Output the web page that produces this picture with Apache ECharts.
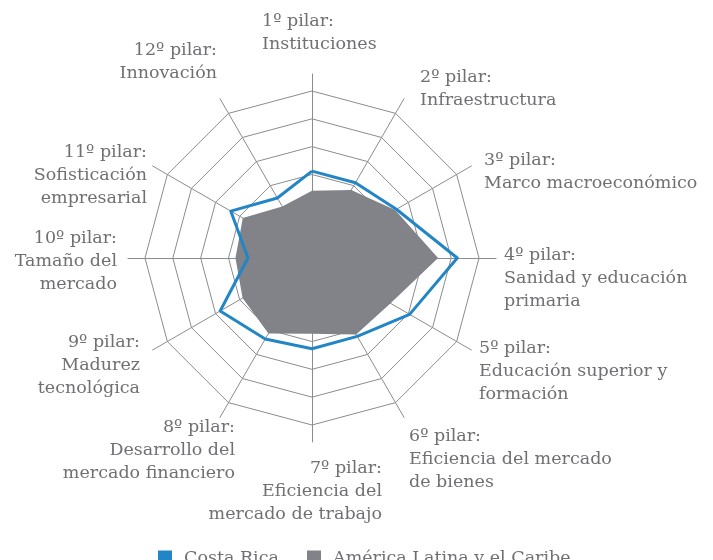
<!DOCTYPE html>
<html>
<head>
<meta charset="utf-8">
<script src="https://cdn.jsdelivr.net/npm/echarts@6.0.0/dist/echarts.min.js"></script>
<style>
  html, body { margin: 0; padding: 0; background: #fff; }
  #main { width: 713px; height: 560px; }
</style>
</head>
<body>
<div id="main"></div>
<script>
// pilares del Índice de Competitividad Global (escala 1-7)
const pilares = [
  '1º pilar:\nInstituciones',
  '2º pilar:\nInfraestructura',
  '3º pilar:\nMarco macroeconómico',
  '4º pilar:\nSanidad y educación\nprimaria',
  '5º pilar:\nEducación superior y\nformación',
  '6º pilar:\nEficiencia del mercado\nde bienes',
  '7º pilar:\nEficiencia del\nmercado de trabajo',
  '8º pilar:\nDesarrollo del\nmercado financiero',
  '9º pilar:\nMadurez\ntecnológica',
  '10º pilar:\nTamaño del\nmercado',
  '11º pilar:\nSofisticación\nempresarial',
  '12º pilar:\nInnovación'
]
const costaRica = [4.12, 4.12, 4.5, 6.22, 5.05, 4.25, 4.26, 4.36, 4.81, 3.3, 4.37, 3.49]
const americaLatina = [3.42, 3.82, 4.45, 5.53, 4.26, 4.17, 3.72, 4.13, 3.88, 3.75, 3.87, 3.14]
const escalaMin = 1
const escalaMax = 7

// posición de las etiquetas: [x, y de la primera línea, alineación]
const etiquetas = [
  [262, 21, 'left'],
  [420, 77, 'left'],
  [484, 160, 'left'],
  [504, 255, 'left'],
  [479, 348, 'left'],
  [409, 436, 'left'],
  [382, 468, 'right'],
  [235, 427, 'right'],
  [140, 342, 'right'],
  [117, 238, 'right'],
  [147, 152, 'right'],
  [217, 50, 'right']
]

const fuente = '17.5px "DejaVu Serif"'
const colorTexto = '#6f7073'
const azul = '#2286c6'
const gris = '#818388'
const lineaGris = '#8b8c8f'

// ECharts reparte los ejes en sentido antihorario: invertimos el orden
const orden = pilares.map((p, i) => (pilares.length - i) % pilares.length)
const indicadores = orden.map(i => ({ name: pilares[i], min: escalaMin, max: escalaMax }))
const reordenar = arr => orden.map(i => arr[i])

const chart = echarts.init(document.getElementById('main'))

const option = {
  animation: false,
  radar: [
    {
      center: [312, 258],
      radius: 167,
      startAngle: 90,
      splitNumber: 6,
      shape: 'polygon',
      indicator: indicadores,
      axisName: { show: false },
      axisLine: { show: false },
      axisTick: { show: false },
      splitLine: { lineStyle: { color: lineaGris, width: 1 } },
      splitArea: { show: false }
    },
    {
      center: [312, 258],
      radius: 184,
      startAngle: 90,
      splitNumber: 1,
      shape: 'polygon',
      indicator: indicadores,
      axisName: { show: false },
      axisLine: { show: true, lineStyle: { color: lineaGris, width: 1 } },
      axisTick: { show: false },
      splitLine: { show: false },
      splitArea: { show: false }
    }
  ],
  legend: [
    {
      left: 153,
      top: 544,
      itemWidth: 14,
      itemHeight: 15,
      icon: 'rect',
      data: ['Costa Rica'],
      textStyle: { fontFamily: 'DejaVu Serif', fontSize: 17.5, color: colorTexto, padding: [0, 0, 0, 7] }
    },
    {
      left: 302,
      top: 544,
      itemWidth: 14,
      itemHeight: 15,
      icon: 'rect',
      data: ['América Latina y el Caribe'],
      textStyle: { fontFamily: 'DejaVu Serif', fontSize: 17.5, color: colorTexto, padding: [0, 0, 0, 7] }
    }
  ],
  graphic: etiquetas.map((e, i) => ({
    type: 'text',
    x: e[0],
    y: e[1] - 11.5,
    silent: true,
    style: {
      text: pilares[i],
      font: fuente,
      fill: colorTexto,
      textAlign: e[2],
      textVerticalAlign: 'top',
      lineHeight: 23
    }
  })),
  series: [
    {
      name: 'América Latina y el Caribe',
      type: 'radar',
      radarIndex: 0,
      symbol: 'none',
      itemStyle: { color: gris },
      lineStyle: { width: 0, color: gris },
      areaStyle: { color: gris, opacity: 1 },
      data: [{ value: reordenar(americaLatina), name: 'América Latina y el Caribe' }]
    },
    {
      name: 'Costa Rica',
      type: 'radar',
      radarIndex: 0,
      symbol: 'none',
      itemStyle: { color: azul },
      lineStyle: { width: 3, color: azul },
      data: [{ value: reordenar(costaRica), name: 'Costa Rica' }]
    }
  ]
}

chart.setOption(option)
</script>
</body>
</html>
